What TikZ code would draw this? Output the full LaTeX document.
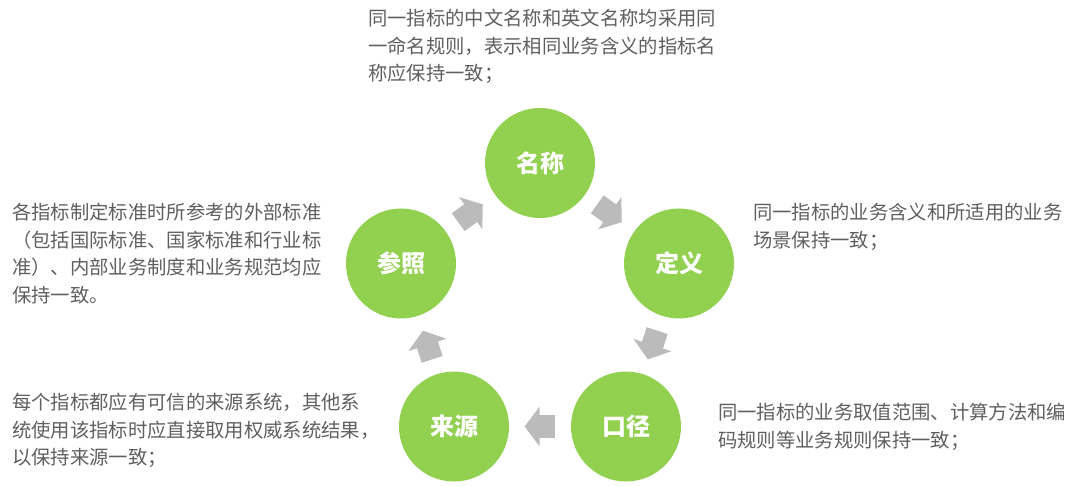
\documentclass[tikz,border=0pt]{standalone}
\usepackage{fontspec}
\setmainfont{Noto Sans CJK SC}
\usepackage{tikz}
\usetikzlibrary{arrows.meta}
\definecolor{stagegreen}{HTML}{92D050}
\definecolor{flowgray}{HTML}{BBBBBB}
\definecolor{notegray}{HTML}{5F5F5F}

\begin{document}
\begin{tikzpicture}
      [x=0.75pt,y=0.75pt,
       stage node/.style={circle,fill=stagegreen,minimum size=82.5pt,inner sep=0pt,
         text=white,font=\fontsize{18pt}{20pt}\selectfont\bfseries},
       note/.style={anchor=north west,inner sep=0pt,align=left,text=notegray,
         font=\fontsize{14.5pt}{20.6pt}\selectfont},
       flow/.style={draw=flowgray,line width=16.5pt,shorten <=11.5pt,shorten >=11.5pt,
         -{Triangle[length=11.25pt,width=29.25pt,fill=flowgray]}}]
        \useasboundingbox (0,0) rectangle (1080,485);

        \node[stage node] (name) at (540,322) {名称};
        \node[stage node] (defn) at (679,221.5) {定义};
        \node[stage node] (scope) at (626,58.5) {口径};
        \node[stage node] (source) at (454,58.5) {来源};
        \node[stage node] (ref) at (401,221.5) {参照};


        \draw[flow] (name) -- (defn);
        \draw[flow] (defn) -- (scope);
        \draw[flow] (scope) -- (source);
        \draw[flow] (source) -- (ref);
        \draw[flow] (ref) -- (name);

        \node[note] (name text) at (368,476) {同一指标的中文名称和英文名称均采用同\\一命名规则，表示相同业务含义的指标名\\称应保持一致；};
        \node[note] (defn text) at (753,282) {同一指标的业务含义和所适用的业务\\场景保持一致；};
        \node[note] (scope text) at (718,82) {同一指标的业务取值范围、计算方法和编\\码规则等业务规则保持一致；};
        \node[note] (source text) at (12,92) {每个指标都应有可信的来源系统，其他系\\统使用该指标时应直接取用权威系统结果，\\以保持来源一致；};
        \node[note] (ref text) at (12,282) {各指标制定标准时所参考的外部标准\\（包括国际标准、国家标准和行业标\\准）、内部业务制度和业务规范均应\\保持一致。};

      \end{tikzpicture}
\end{document}
